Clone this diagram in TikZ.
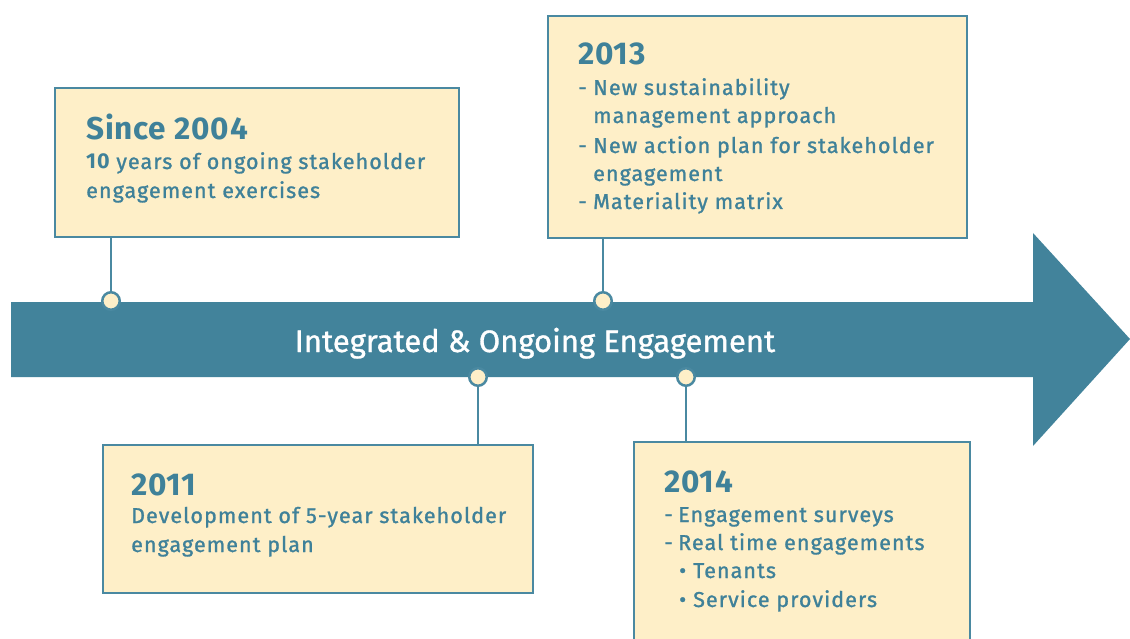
\documentclass[tikz,border=0pt]{standalone}
\usepackage{fontspec}
\setmainfont{Fira Sans}
\newfontfamily\bodyfont{Fira Sans}[LetterSpace=5, FakeBold=1.2]
\newfontfamily\yearfont{Fira Sans Bold}[LetterSpace=2.5]
\newfontfamily\tenfont{Fira Sans Bold}[LetterSpace=4]
\newfontfamily\titlefont{Fira Sans}[FakeBold=1.0]
\definecolor{teal}{HTML}{42839B}
\definecolor{tealline}{HTML}{4A89A1}
\definecolor{cream}{HTML}{FEEFC8}
\definecolor{txt}{HTML}{3F8199}
\tikzset{
  box/.style={draw=tealline, line width=2pt, fill=cream, anchor=north west, inner sep=0pt},
  dot/.style={circle, draw=tealline, line width=2.5pt, fill=cream, minimum size=17.5pt, inner sep=0pt},
  conn/.style={draw=tealline, line width=2.5pt},
  yr/.style={anchor=base west, inner sep=0pt, text=txt, font=\fontsize{31.5}{31.5}\yearfont},
  ln/.style={anchor=base west, inner sep=0pt, text=txt, font=\fontsize{21.5}{21.5}\bodyfont},
}
\begin{document}
\begin{tikzpicture}[x=1pt,y=-1pt]
\useasboundingbox (0,0) rectangle (1130,639);
% arrow
\fill[teal] (11,302) -- (1033,302) -- (1033,233) -- (1130,339) -- (1033,446) -- (1033,377) -- (11,377) -- cycle;
\node[anchor=base, inner sep=0pt, text=white, font=\fontsize{31}{31}\titlefont] (title) at (535,352) {Integrated \& Ongoing Engagement};
% boxes
\node[box, minimum width=404pt, minimum height=149pt] (b1) at (54,87) {};
\node[box, minimum width=419pt, minimum height=222pt] (b2) at (547,15) {};
\node[box, minimum width=430pt, minimum height=148pt] (b3) at (102,444) {};
\node[box, minimum width=336pt, minimum height=210pt] (b4) at (633,441) {};
% dots
\node[dot] (d1) at (111,301) {};
\node[dot] (d2) at (603,301) {};
\node[dot] (d3) at (478,377) {};
\node[dot] (d4) at (686,377) {};
% connectors
\draw[conn] (d1.north) -- (d1.north |- b1.south);
\draw[conn] (d2.north) -- (d2.north |- b2.south);
\draw[conn] (d3.south) -- (d3.south |- b3.north);
\draw[conn] (d4.south) -- (d4.south |- b4.north);
% box 1 text
\node[yr] (t1) at (86,140) {Since 2004};
\node[ln] (t1a) at (86,169) {{\tenfont\fontsize{21.5}{21.5}\selectfont 10} years of ongoing stakeholder};
\node[ln] (t1b) at (86,198) {engagement exercises};
% box 2 text
\node[yr] (t2) at (578,65) {2013};
\node[ln] (t2a) at (578,95) {-};
\node[ln] (t2b) at (593,95) {New sustainability};
\node[ln] (t2c) at (593,123) {management approach};
\node[ln] (t2d) at (578,153) {-};
\node[ln] (t2e) at (593,153) {New action plan for stakeholder};
\node[ln] (t2f) at (593,181) {engagement};
\node[ln] (t2g) at (578,209) {-};
\node[ln] (t2h) at (593,209) {Materiality matrix};
% box 3 text
\node[yr] (t3) at (131,495) {2011};
\node[ln] (t3a) at (131,523) {Development of 5-year stakeholder};
\node[ln] (t3b) at (131,552) {engagement plan};
% box 4 text
\node[yr] (t4) at (664,492) {2014};
\node[ln] (t4a) at (664,522) {-};
\node[ln] (t4b) at (678,522) {Engagement surveys};
\node[ln] (t4c) at (664,550) {-};
\node[ln] (t4d) at (678,550) {Real time engagements};
\node[ln] (t4e) at (679,578) {•};
\node[ln] (t4f) at (693,578) {Tenants};
\node[ln] (t4g) at (679,607) {•};
\node[ln] (t4h) at (693,607) {Service providers};
\end{tikzpicture}
\end{document}
